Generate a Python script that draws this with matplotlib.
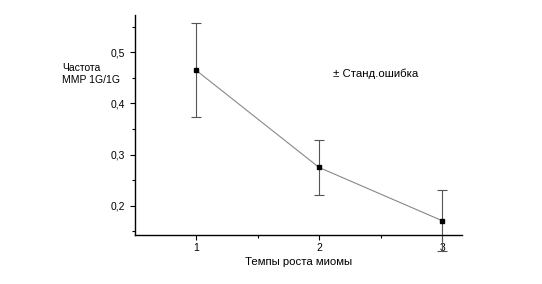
import matplotlib
matplotlib.use("Agg")
import matplotlib.pyplot as plt
from matplotlib.ticker import FuncFormatter, FixedLocator

categories = [1, 2, 3]
values = [0.465, 0.275, 0.171]
errors = [0.092, 0.053, 0.059]
yticks = [0.2, 0.3, 0.4, 0.5]

plt.rcParams['font.family'] = ['Liberation Sans', 'DejaVu Sans']

fig = plt.figure(figsize=(5.42, 2.84), dpi=100)
ax = fig.add_axes([0.249, 0.1725, 0.603, 0.775])

ax.errorbar(categories, values, yerr=errors, fmt='-', color='#888888', lw=0.8,
            ecolor='#555555', elinewidth=0.8, capsize=3.5, capthick=0.8, clip_on=False, zorder=2)
ax.plot(categories, values, 's', color='black', ms=3.5, clip_on=False, zorder=3)

ax.set_xlim(0.504, 3.16)
ax.set_ylim(0.143, 0.573)
ax.set_xticks(categories)
ax.xaxis.set_minor_locator(FixedLocator([1.5, 2.5]))
ax.set_yticks(yticks)
ax.yaxis.set_minor_locator(FixedLocator([0.15, 0.25, 0.35, 0.45, 0.55]))
ax.yaxis.set_major_formatter(FuncFormatter(lambda v, p: f"{v:.1f}".replace('.', ',')))

for s in ['top', 'right']:
    ax.spines[s].set_visible(False)
for s in ['left', 'bottom']:
    ax.spines[s].set_linewidth(1.0)
ax.tick_params(which='major', length=3.5, width=0.8, labelsize=7.5, direction='out')
ax.tick_params(axis='x', which='major', pad=2)
ax.tick_params(which='minor', length=2.5, width=0.8)

ax.set_xlabel("Темпы роста миомы", fontsize=8.2, labelpad=3)
fig.text(0.115, 0.74, "Частота\nMMP 1G/1G", fontsize=7.5, ha='left', va='center', linespacing=1.3)
fig.text(0.614, 0.74, "± Станд.ошибка", fontsize=8.2, ha='left', va='center')

fig.savefig("out.png", dpi=100)
